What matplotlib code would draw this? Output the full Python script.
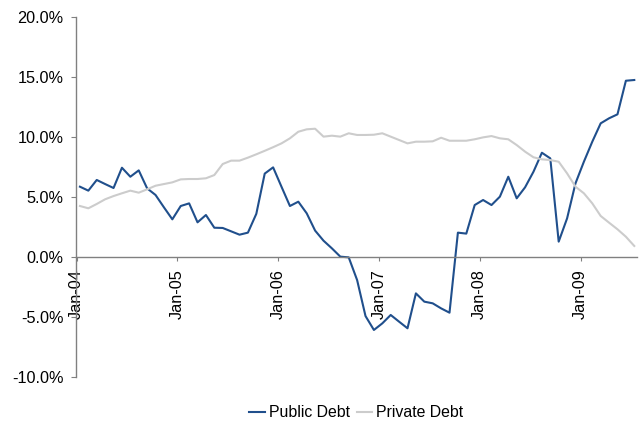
import matplotlib
matplotlib.use("Agg")
import matplotlib.pyplot as plt
from matplotlib.ticker import FuncFormatter

plt.rcParams["font.family"] = ["Liberation Sans", "DejaVu Sans"]

# monthly growth rates, Jan-04 .. Jul-09 (percent)
public_debt = [
    5.86, 5.53, 6.42, 6.08, 5.75, 7.44, 6.69, 7.22, 5.72, 5.17, 4.14, 3.14,
    4.25, 4.47, 2.89, 3.50, 2.44, 2.42, 2.14, 1.86, 2.03, 3.60, 6.95, 7.47,
    5.85, 4.25, 4.61, 3.64, 2.20, 1.36, 0.72, 0.03, -0.03, -1.92, -4.92, -6.08,
    -5.53, -4.83, -5.39, -5.94, -3.03, -3.72, -3.86, -4.28, -4.64, 2.03, 1.95, 4.33,
    4.75, 4.33, 5.03, 6.69, 4.89, 5.81, 7.11, 8.69, 8.22, 1.28, 3.22, 6.14,
    7.94, 9.61, 11.14, 11.56, 11.89, 14.69, 14.75,
]
private_debt = [
    4.25, 4.06, 4.42, 4.81, 5.08, 5.31, 5.53, 5.36, 5.64, 5.94, 6.08, 6.22,
    6.47, 6.50, 6.50, 6.56, 6.83, 7.75, 8.03, 8.03, 8.28, 8.56, 8.85, 9.15,
    9.47, 9.89, 10.44, 10.64, 10.69, 10.03, 10.11, 10.03, 10.31, 10.17, 10.17, 10.19,
    10.31, 10.03, 9.75, 9.47, 9.61, 9.61, 9.64, 9.94, 9.69, 9.69, 9.69, 9.81,
    9.97, 10.08, 9.89, 9.81, 9.33, 8.78, 8.31, 8.14, 8.08, 7.94, 6.97, 5.86,
    5.31, 4.47, 3.42, 2.86, 2.31, 1.69, 0.92,
]
tick_labels = ["Jan-04", "Jan-05", "Jan-06", "Jan-07", "Jan-08", "Jan-09"]

months = list(range(len(public_debt)))

fig = plt.figure(figsize=(6.4, 4.21), dpi=100)
ax = fig.add_axes([0.119, 0.1045, 0.876, 0.8551])

ax.plot(months, public_debt, color="#204f8c", lw=1.5, label="Public Debt")
ax.plot(months, private_debt, color="#cccccc", lw=1.5, label="Private Debt")

ax.set_ylim(-10, 20)
ax.set_yticks(range(-10, 21, 5))
ax.yaxis.set_major_formatter(FuncFormatter(lambda v, _: f"{v:.1f}%"))
ax.set_xlim(-0.45, 66.3)
ax.set_xticks([12 * k - 0.4 for k in range(len(tick_labels))])
ax.set_xticklabels(tick_labels)

# x axis sits on the zero line
ax.spines["bottom"].set_position(("data", 0))
for side in ("top", "right"):
    ax.spines[side].set_visible(False)
for side in ("left", "bottom"):
    ax.spines[side].set_color("#808080")
    ax.spines[side].set_linewidth(1)

ax.tick_params(axis="both", direction="out", length=3.5, color="#808080",
               labelsize=11.7, labelcolor="black")
ax.tick_params(axis="y", pad=5.5)
ax.tick_params(axis="x", length=3, pad=6, labelrotation=90)

ax.legend(loc="lower center", bbox_to_anchor=(0.5, -0.16), ncol=2, frameon=False,
          fontsize=11.4, handlelength=1.0, handletextpad=0.25, columnspacing=0.4)

fig.savefig("out.png", dpi=100)
